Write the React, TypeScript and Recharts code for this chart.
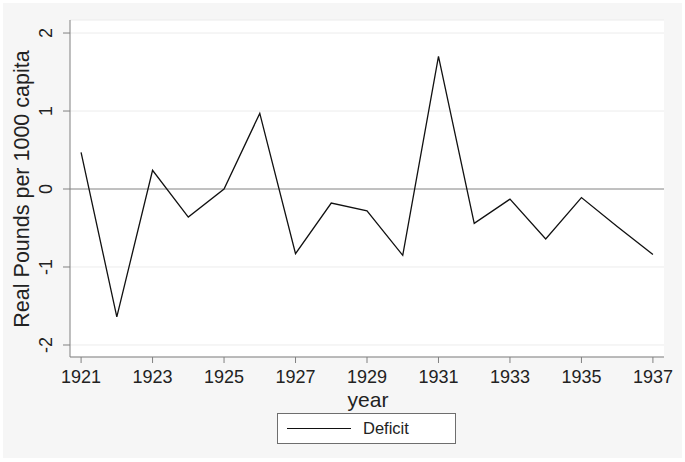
import React from "react";
import {
  LineChart,
  Line,
  XAxis,
  YAxis,
  CartesianGrid,
  ReferenceLine,
  Label,
} from "recharts";

// Déficit em libras reais por 1000 habitantes, 1921–1937
const anos = [1921, 1922, 1923, 1924, 1925, 1926, 1927, 1928, 1929, 1930, 1931, 1932, 1933, 1934, 1935, 1936, 1937];
const deficit = [0.47, -1.64, 0.24, -0.36, 0.0, 0.97, -0.83, -0.18, -0.28, -0.85, 1.7, -0.44, -0.13, -0.64, -0.11, -0.48, -0.84];
const ticksX = [1921, 1923, 1925, 1927, 1929, 1931, 1933, 1935, 1937];
const ticksY = [-2, -1, 0, 1, 2];

const dados = anos.map((ano, i) => ({ ano, deficit: deficit[i] }));

const FONTE = "'Liberation Sans', Arial, Helvetica, sans-serif";

const TickY = (props: any) => {
  const { x, y, payload } = props;
  return (
    <text
      x={x - 15}
      y={y}
      transform={`rotate(-90, ${x - 15}, ${y})`}
      textAnchor="middle"
      dominantBaseline="central"
      fontSize={18}
      fontFamily={FONTE}
      fill="#222"
    >
      {payload.value}
    </text>
  );
};

const TickX = (props: any) => {
  const { x, y, payload } = props;
  return (
    <text x={x} y={y + 12} textAnchor="middle" dominantBaseline="central" fontSize={18} fontFamily={FONTE} fill="#222">
      {payload.value}
    </text>
  );
};

export default function App() {
  return (
    <div style={{ position: "absolute", left: 0, top: 0, width: 685, height: 462, background: "#ffffff" }}>
      <div style={{ position: "absolute", left: 3, top: 3, width: 679, height: 455, background: "#f6f6f6" }} />
      <div style={{ position: "absolute", left: 0, top: 0 }}>
        <LineChart width={685} height={462} data={dados} margin={{ top: 20, right: 21, left: 0, bottom: 0 }}>
          <CartesianGrid vertical={false} stroke="#ececec" fill="#ffffff" />
          <XAxis
            dataKey="ano"
            type="number"
            domain={[1920.69, 1937.31]}
            ticks={ticksX}
            allowDataOverflow
            height={105}
            tickSize={6}
            stroke="#808080"
            tick={<TickX />}
          >
            <Label
              content={() => (
                <text x={368} y={399} textAnchor="middle" dominantBaseline="central" fontSize={21} fontFamily={FONTE} fill="#222">
                  year
                </text>
              )}
            />
          </XAxis>
          <YAxis
            type="number"
            domain={[-2.154, 2.167]}
            ticks={ticksY}
            allowDataOverflow
            width={70}
            tickSize={7}
            stroke="#808080"
            tick={<TickY />}
          >
            <Label
              content={() => (
                <text
                  x={22}
                  y={189}
                  transform="rotate(-90, 22, 189)"
                  textAnchor="middle"
                  dominantBaseline="central"
                  fontSize={21.5}
                  fontFamily={FONTE}
                  fill="#222"
                >
                  Real Pounds per 1000 capita
                </text>
              )}
            />
          </YAxis>
          <ReferenceLine y={0} stroke="#8c8c8c" strokeWidth={1.2} />
          <Line
            type="linear"
            dataKey="deficit"
            stroke="#111111"
            strokeWidth={1.3}
            dot={false}
            isAnimationActive={false}
          />
        </LineChart>
      </div>
      <div
        style={{
          position: "absolute",
          left: 277,
          top: 413,
          width: 179,
          height: 31,
          background: "#ffffff",
          border: "1px solid #6e6e6e",
          boxSizing: "border-box",
          display: "flex",
          alignItems: "center",
          fontFamily: FONTE,
          fontSize: 16.5,
          color: "#222",
        }}
      >
        <div style={{ marginLeft: 9, width: 64, height: 0, borderTop: "1.5px solid #111" }} />
        <span style={{ marginLeft: 12 }}>Deficit</span>
      </div>
    </div>
  );
}
